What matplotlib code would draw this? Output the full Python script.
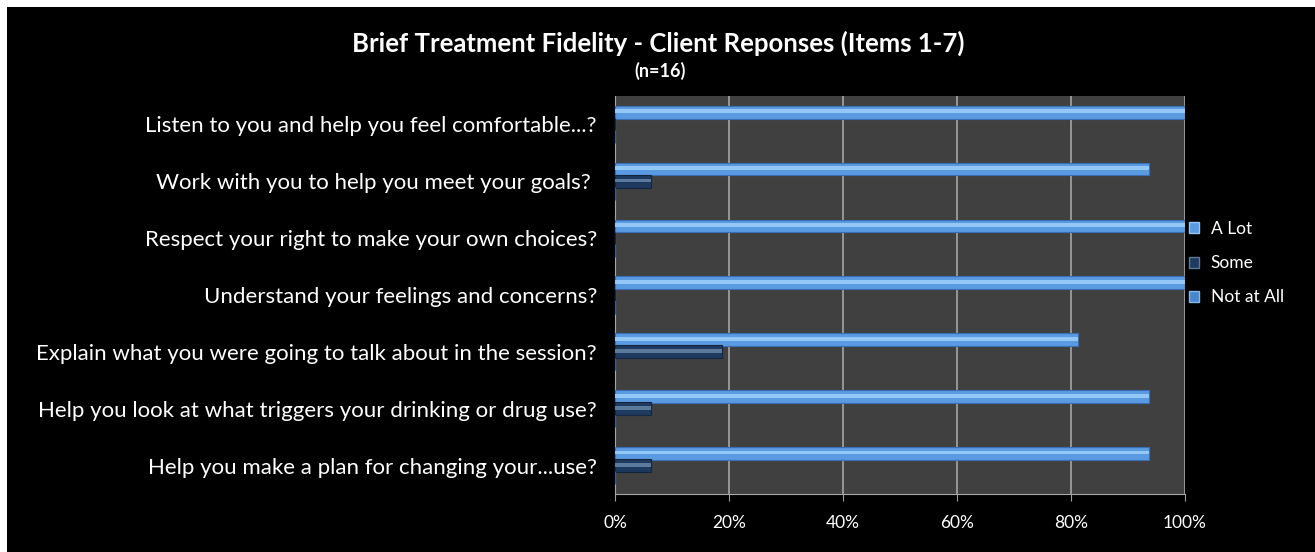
import matplotlib.pyplot as plt
import matplotlib.patches as mpatches
import numpy as np

# Survey items (top to bottom) and percentage of responses
items = [
    'Listen to you and help you feel comfortable...?',
    'Work with you to help you meet your goals? ',
    'Respect your right to make your own choices?',
    'Understand your feelings and concerns?',
    'Explain what you were going to talk about in the session?',
    'Help you look at what triggers your drinking or drug use?',
    'Help you make a plan for changing your...use?',
]
a_lot = [100, 93.75, 100, 100, 81.25, 93.75, 93.75]
some = [0, 6.25, 0, 0, 18.75, 6.25, 6.25]
not_at_all = [0, 0, 0, 0, 0, 0, 0]

x_ticks = [0, 20, 40, 60, 80, 100]
x_ticklabels = ['0%', '20%', '40%', '60%', '80%', '100%']

# colours: (base, highlight stripe, dark edge)
series = [
    ('A Lot', a_lot, '#5a9ae0', '#93c8f6', '#3a6fb3', -0.215),
    ('Some', some, '#1e3a5e', '#5b7a9c', '#14263f', 0.0),
    ('Not at All', not_at_all, '#4a86cc', '#84b8ea', '#2f5f9c', 0.215),
]

plt.rcParams['font.family'] = ['Lato', 'DejaVu Sans']

fig = plt.figure(figsize=(13.15, 5.52), dpi=100, facecolor='white')
# black chart area with a thin white margin on top/left
fig.patches.append(mpatches.Rectangle((7 / 1315, 0), 1, 1 - 7 / 552,
                                      transform=fig.transFigure,
                                      facecolor='black', edgecolor='none',
                                      zorder=-10))

ax = fig.add_axes([615 / 1315, 1 - 494 / 552, 570 / 1315, 398 / 552])
ax.set_facecolor('#404040')

y = np.arange(len(items))
h = 0.225
for name, vals, base, light, dark, off in series:
    ax.barh(y + off, vals, height=h, color=base, edgecolor=dark,
            linewidth=0.8, label=name, zorder=3)
    ax.barh(y + off - 0.015, vals, height=h * 0.3, color=light,
            edgecolor='none', zorder=4)

ax.set_xlim(0, 100)
ax.set_ylim(len(items) - 0.5, -0.5)
ax.set_xticks(x_ticks)
ax.set_xticklabels(x_ticklabels, color='white', fontsize=12.5)
ax.set_yticks(y)
ax.set_yticklabels(items, color='white', fontsize=16)
ax.tick_params(axis='y', length=0, pad=13)
ax.tick_params(axis='x', length=5, color='#a0a0a0', pad=10)
ax.grid(axis='x', color='#a6a6a6', linewidth=1.2, zorder=1)
for side in ['top', 'right']:
    ax.spines[side].set_visible(False)
ax.spines['left'].set_color('#a6a6a6')
ax.spines['bottom'].set_color('#a6a6a6')

handles = [mpatches.Patch(facecolor=s[2], edgecolor=s[3], linewidth=1)
           for s in series]
leg = ax.legend(handles, [s[0] for s in series], loc='center left',
                bbox_to_anchor=(1.007, 0.58), frameon=False, borderpad=0,
                borderaxespad=0, fontsize=12.5, labelcolor='white',
                handlelength=0.6, handleheight=0.6, handletextpad=0.65,
                labelspacing=1.05)

fig.text(658 / 1315, 1 - 43 / 552,
         'Brief Treatment Fidelity - Client Reponses (Items 1-7)',
         color='white', fontsize=18.5, fontweight='bold', ha='center', va='center')
fig.text(660 / 1315, 1 - 71 / 552, '(n=16)', color='white', fontsize=13,
         fontweight='bold', ha='center', va='center')

fig.savefig('out.png', dpi=100, facecolor=fig.get_facecolor())
